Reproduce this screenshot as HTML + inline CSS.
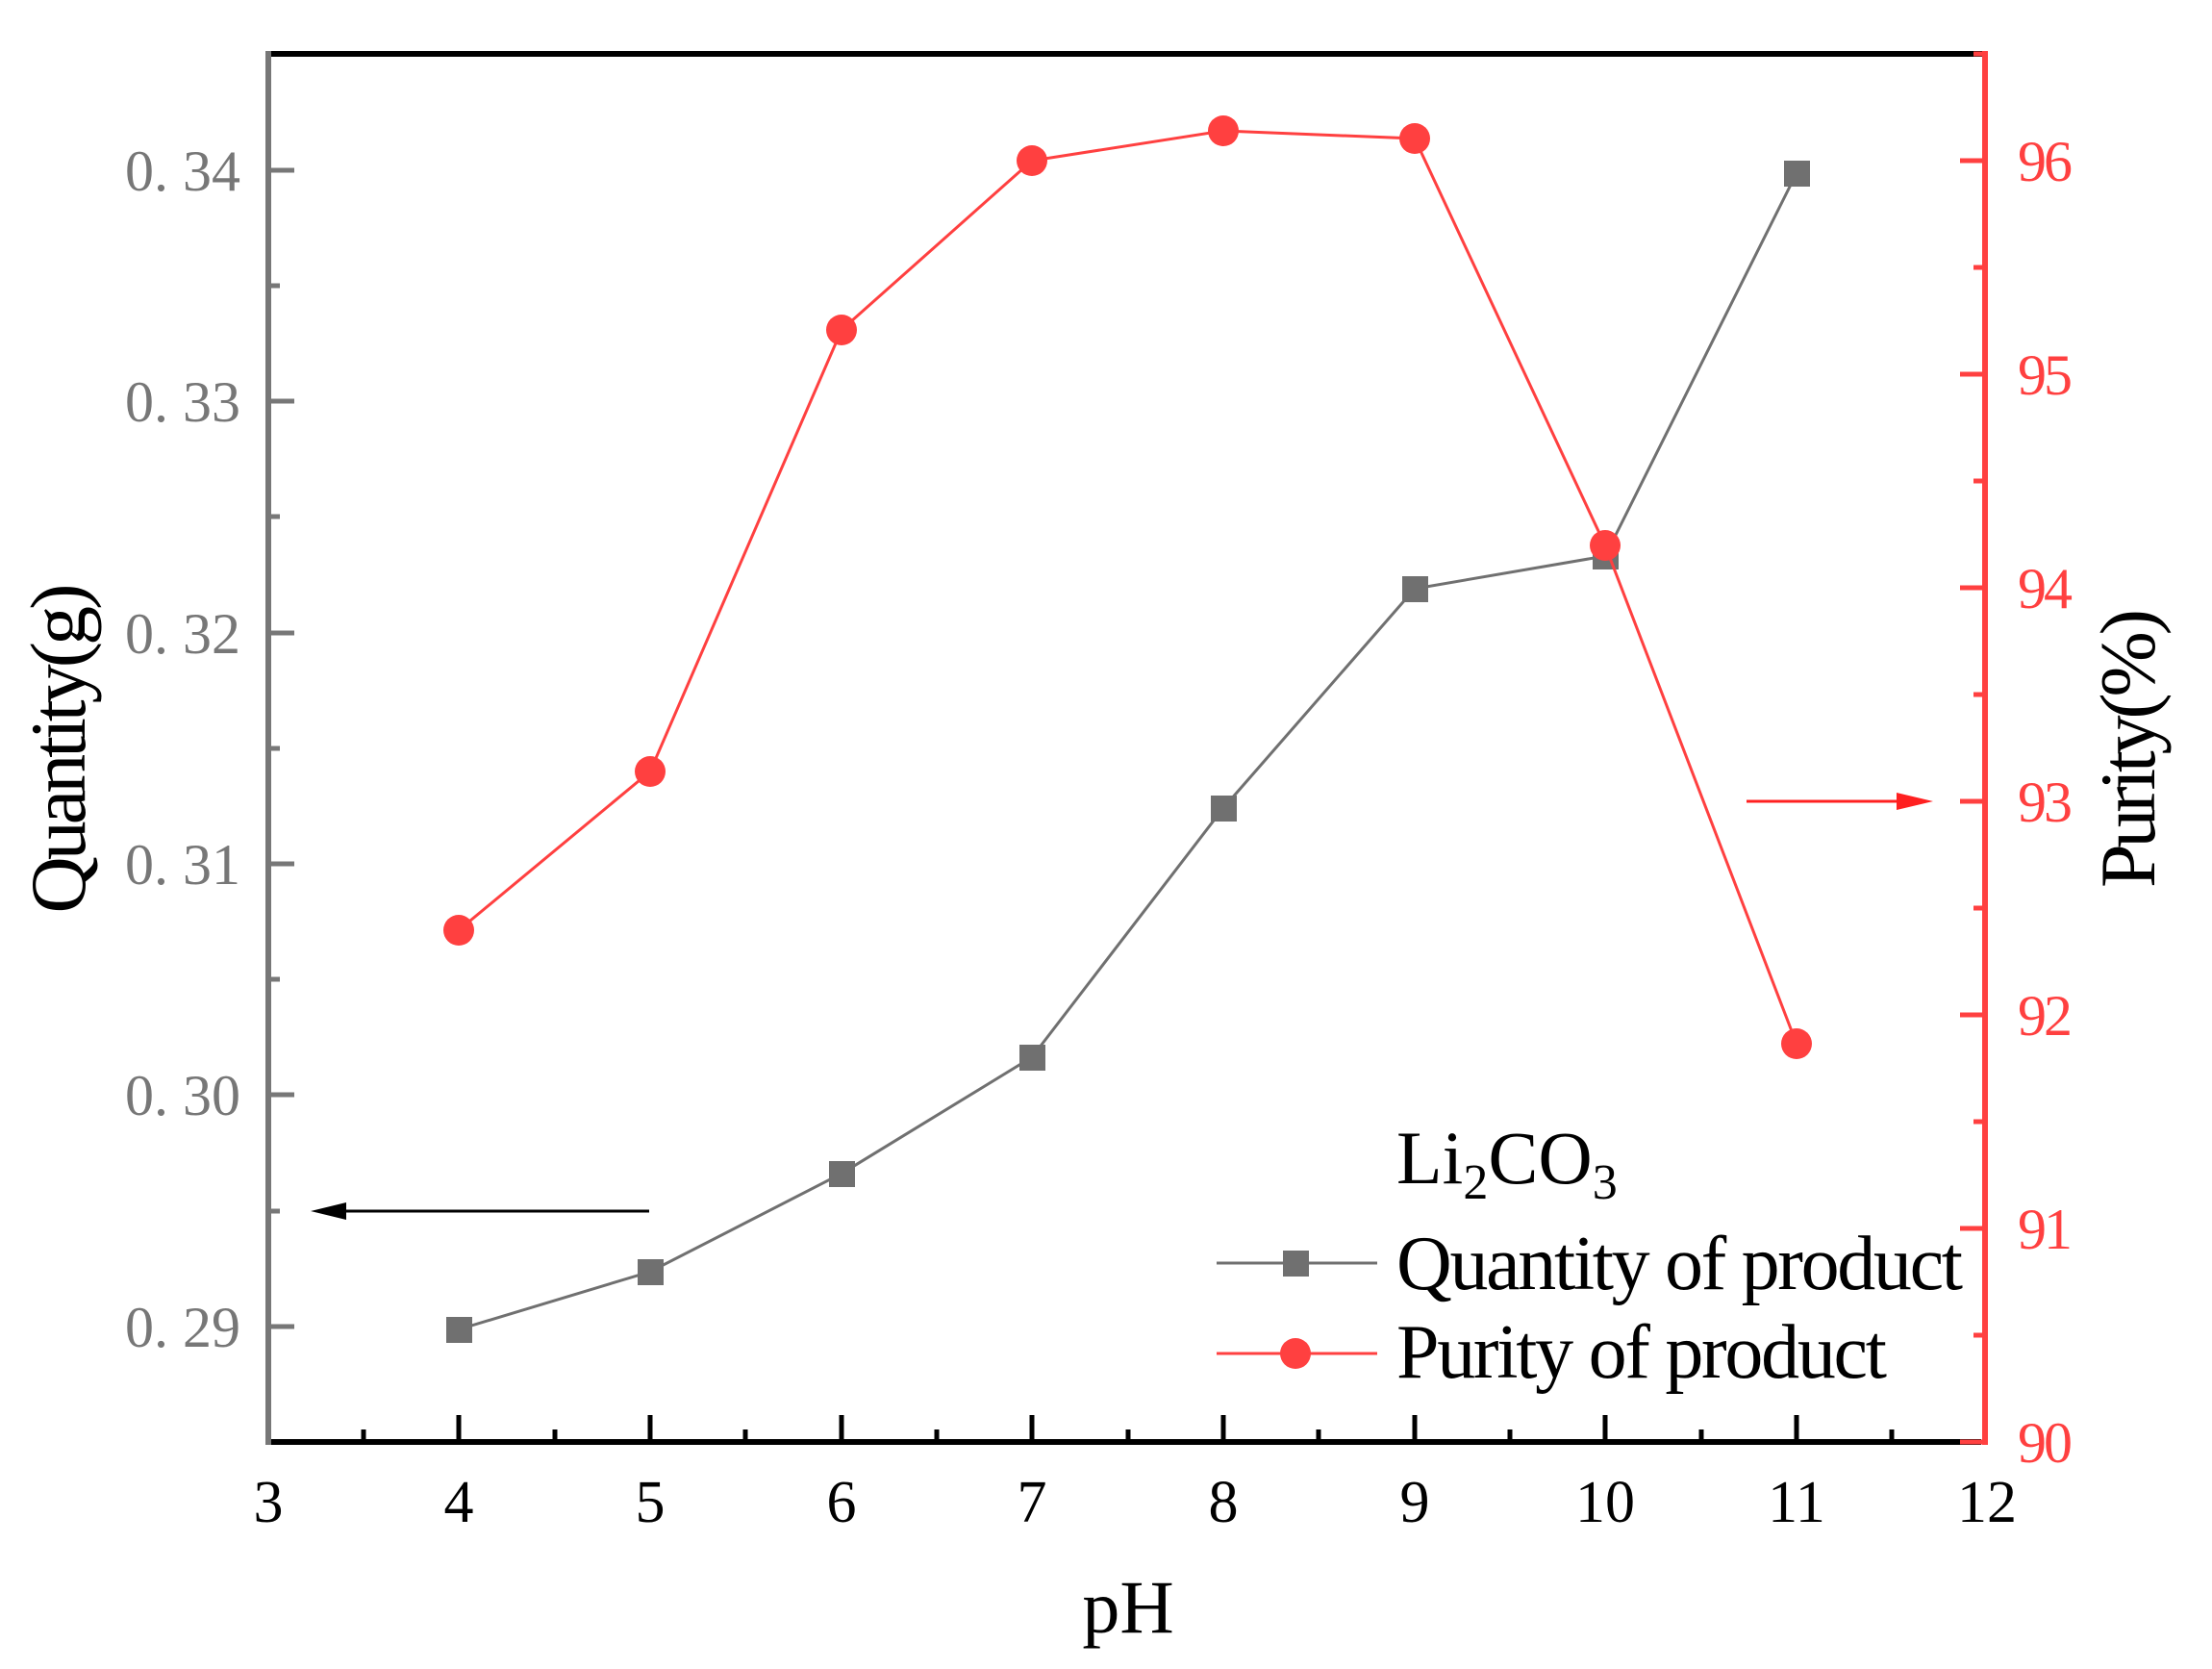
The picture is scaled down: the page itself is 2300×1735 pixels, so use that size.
<!DOCTYPE html>
<html><head><meta charset="utf-8"><style>html,body{margin:0;padding:0;background:#fff}svg{display:block}</style></head>
<body>
<svg width="2300" height="1735" viewBox="0 0 2300 1735" xmlns="http://www.w3.org/2000/svg" font-family="Liberation Serif, serif">
<rect width="2300" height="1735" fill="#fff"/>
<!-- axes -->
<line x1="276" y1="56" x2="2063" y2="56" stroke="#000" stroke-width="6"/>
<line x1="279" y1="53" x2="279" y2="1502" stroke="#777" stroke-width="6"/>
<line x1="282" y1="1499" x2="2060" y2="1499" stroke="#000" stroke-width="6"/>
<line x1="2064" y1="53" x2="2064" y2="1502" stroke="#ff4040" stroke-width="6"/>
<g stroke="#000" stroke-width="5">
<line x1="378" y1="1499" x2="378" y2="1486"/>
<line x1="477" y1="1499" x2="477" y2="1471"/>
<line x1="577" y1="1499" x2="577" y2="1486"/>
<line x1="676" y1="1499" x2="676" y2="1471"/>
<line x1="775" y1="1499" x2="775" y2="1486"/>
<line x1="875" y1="1499" x2="875" y2="1471"/>
<line x1="974" y1="1499" x2="974" y2="1486"/>
<line x1="1073" y1="1499" x2="1073" y2="1471"/>
<line x1="1173" y1="1499" x2="1173" y2="1486"/>
<line x1="1272" y1="1499" x2="1272" y2="1471"/>
<line x1="1371" y1="1499" x2="1371" y2="1486"/>
<line x1="1471" y1="1499" x2="1471" y2="1471"/>
<line x1="1570" y1="1499" x2="1570" y2="1486"/>
<line x1="1669" y1="1499" x2="1669" y2="1471"/>
<line x1="1769" y1="1499" x2="1769" y2="1486"/>
<line x1="1868" y1="1499" x2="1868" y2="1471"/>
<line x1="1967" y1="1499" x2="1967" y2="1486"/>
</g>
<g stroke="#777" stroke-width="5">
<line x1="279" y1="177" x2="306" y2="177"/><line x1="279" y1="297" x2="291" y2="297"/>
<line x1="279" y1="417" x2="306" y2="417"/><line x1="279" y1="537" x2="291" y2="537"/>
<line x1="279" y1="658" x2="306" y2="658"/><line x1="279" y1="778" x2="291" y2="778"/>
<line x1="279" y1="898" x2="306" y2="898"/><line x1="279" y1="1018" x2="291" y2="1018"/>
<line x1="279" y1="1138" x2="306" y2="1138"/><line x1="279" y1="1259" x2="291" y2="1259"/>
<line x1="279" y1="1379" x2="306" y2="1379"/>
</g>
<g stroke="#ff4040" stroke-width="5">
<line x1="2064" y1="1499" x2="2038" y2="1499"/><line x1="2064" y1="1388" x2="2052" y2="1388"/>
<line x1="2064" y1="1277" x2="2038" y2="1277"/><line x1="2064" y1="1166" x2="2052" y2="1166"/>
<line x1="2064" y1="1055" x2="2038" y2="1055"/><line x1="2064" y1="944" x2="2052" y2="944"/>
<line x1="2064" y1="833" x2="2038" y2="833"/><line x1="2064" y1="722" x2="2052" y2="722"/>
<line x1="2064" y1="611" x2="2038" y2="611"/><line x1="2064" y1="500" x2="2052" y2="500"/>
<line x1="2064" y1="389" x2="2038" y2="389"/><line x1="2064" y1="278" x2="2052" y2="278"/>
<line x1="2064" y1="167" x2="2038" y2="167"/><line x1="2064" y1="56" x2="2052" y2="56"/>
</g>
<!-- left labels -->
<g fill="#777" font-size="60" text-anchor="end">
<text x="250" y="198" textLength="120">0. 34</text>
<text x="250" y="438" textLength="120">0. 33</text>
<text x="250" y="679" textLength="120">0. 32</text>
<text x="250" y="919" textLength="120">0. 31</text>
<text x="250" y="1159" textLength="120">0. 30</text>
<text x="250" y="1400" textLength="120">0. 29</text>
</g>
<g fill="#ff4040" font-size="60">
<text x="2098" y="188" textLength="57">96</text>
<text x="2098" y="410" textLength="57">95</text>
<text x="2098" y="632" textLength="57">94</text>
<text x="2098" y="854" textLength="57">93</text>
<text x="2098" y="1076" textLength="57">92</text>
<text x="2098" y="1298" textLength="57">91</text>
<text x="2098" y="1520" textLength="57">90</text>
</g>
<g fill="#000" font-size="62" text-anchor="middle">
<text x="279" y="1582">3</text><text x="477" y="1582">4</text><text x="676" y="1582">5</text>
<text x="875" y="1582">6</text><text x="1073" y="1582">7</text><text x="1272" y="1582">8</text>
<text x="1471" y="1582">9</text><text x="1669" y="1582">10</text><text x="1868" y="1582">11</text>
<text x="2066" y="1582">12</text>
</g>
<text x="1173" y="1697" font-size="78" text-anchor="middle">pH</text>
<text transform="translate(88,778) rotate(-90)" font-size="82" text-anchor="middle" textLength="343">Quantity(g)</text>
<text transform="translate(2240,778) rotate(-90)" font-size="82" text-anchor="middle" textLength="290">Purity(%)</text>
<!-- arrows -->
<line x1="675" y1="1259" x2="345" y2="1259" stroke="#000" stroke-width="3"/>
<polygon points="323,1259 360,1250 360,1268" fill="#000"/>
<line x1="1816" y1="833" x2="1985" y2="833" stroke="#ff2020" stroke-width="3"/>
<polygon points="2010,833 1972,824 1972,842" fill="#ff2020"/>
<!-- gray series -->
<polyline fill="none" stroke="#707070" stroke-width="3" points="477,1382 676,1322 875,1220 1073,1099 1272,840 1471,612 1669,578 1868,180"/>
<g fill="#707070">
<rect x="464" y="1369" width="27" height="27"/><rect x="663" y="1309" width="27" height="27"/>
<rect x="862" y="1207" width="27" height="27"/><rect x="1060" y="1086" width="27" height="27"/>
<rect x="1259" y="827" width="27" height="27"/><rect x="1458" y="599" width="27" height="27"/>
<rect x="1656" y="565" width="27" height="27"/><rect x="1855" y="167" width="27" height="27"/>
</g>
<!-- red series -->
<polyline fill="none" stroke="#ff4040" stroke-width="3" points="477,967 676,802 875,343 1073,167 1272,136 1471,144 1669,567 1868,1085"/>
<g fill="#ff4040">
<circle cx="477" cy="967" r="16"/><circle cx="676" cy="802" r="16"/><circle cx="875" cy="343" r="16"/>
<circle cx="1073" cy="167" r="16"/><circle cx="1272" cy="136" r="16"/><circle cx="1471" cy="144" r="16"/>
<circle cx="1669" cy="567" r="16"/><circle cx="1868" cy="1085" r="16"/>
</g>
<!-- legend -->
<text x="1452" y="1230" font-size="78">Li<tspan font-size="52" dy="16">2</tspan><tspan dy="-16">CO</tspan><tspan font-size="52" dy="16">3</tspan></text>
<line x1="1265" y1="1313" x2="1432" y2="1313" stroke="#707070" stroke-width="3"/>
<rect x="1334" y="1300" width="27" height="27" fill="#707070"/>
<text x="1452" y="1340" font-size="80" textLength="589">Quantity of product</text>
<line x1="1265" y1="1407" x2="1432" y2="1407" stroke="#ff4040" stroke-width="3"/>
<circle cx="1347" cy="1407" r="16" fill="#ff4040"/>
<text x="1452" y="1432" font-size="80" textLength="510">Purity of product</text>
</svg>
</body></html>
